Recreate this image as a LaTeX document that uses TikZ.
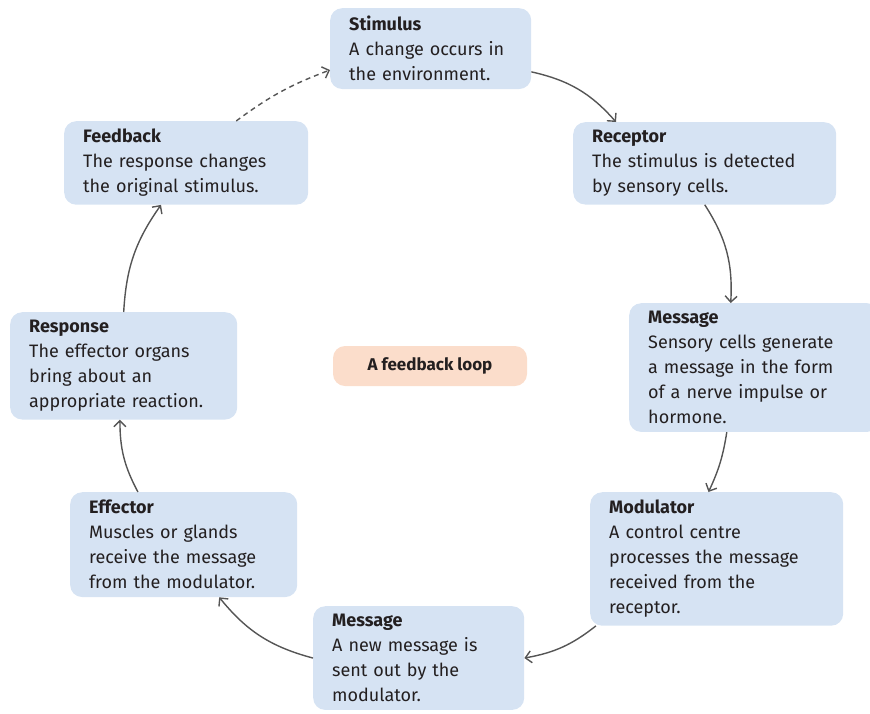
\documentclass[tikz,border=0pt]{standalone}
\usepackage{fontspec}
\setmainfont{Fira Sans}
\usepackage{tikz}
\usetikzlibrary{arrows.meta}
\definecolor{boxfill}{HTML}{D6E3F3}
\definecolor{peach}{HTML}{FBDDCB}
\definecolor{ink}{HTML}{231F20}
\definecolor{wire}{HTML}{555555}
\tikzset{
  box/.style={fill=boxfill, rounded corners=12pt, anchor=north west, align=left, text=ink,
    font=\fontsize{18}{25}\selectfont, inner xsep=19pt, inner ysep=8pt},
  lab/.style={fill=peach, rounded corners=12pt, text=ink, font=\fontsize{17}{20}\selectfont\bfseries,
    minimum width=194pt, minimum height=40pt},
  flow/.style={-{Straight Barb[length=6pt,width=12pt]}, draw=wire, line width=1.4pt},
}
\begin{document}
\begin{tikzpicture}[x=1pt,y=-1pt]
    \useasboundingbox (0,0) rectangle (870,713);
    \clip (0,0) rectangle (870,713);
    \node[box, text width=163pt] (stim) at (330,8) {\textbf{Stimulus}\\A change occurs in\\the environment.};
    \node[box, text width=225pt] (rec) at (573,122) {\textbf{Receptor}\\The stimulus is detected\\by sensory cells.};
    \node[box, text width=212pt] (msga) at (629,303) {\textbf{Message}\\Sensory cells generate\\a message in the form\\of a nerve impulse or\\hormone.};
    \node[box, text width=215pt] (mod) at (590,492) {\textbf{Modulator}\\A control centre\\processes the message\\received from the\\receptor.};
    \node[box, text width=173pt] (msgb) at (313,606) {\textbf{Message}\\A new message is\\sent out by the\\modulator.};
    \node[box, text width=189pt] (eff) at (70,492) {\textbf{Effector}\\Muscles or glands\\receive the message\\from the modulator.};
    \node[box, text width=189pt] (resp) at (10,312) {\textbf{Response}\\The effector organs\\bring about an\\appropriate reaction.};
    \node[box, text width=206pt] (feed) at (64,121) {\textbf{Feedback}\\The response changes\\the original stimulus.};
    \node[lab] (loop) at (430,366) {A feedback loop};
    \draw[flow] (stim.-13) to[bend left=18] (rec.155);
    \draw[flow] (rec.south) to[bend left=18] (msga.110);
    \draw[flow] (msga.-113) to[bend left=8] (mod.97);
    \draw[flow] (mod.209) to[bend left=14] (msgb.east);
    \draw[flow] (msgb.west) to[bend left=18] (eff.-56);
    \draw[flow] (eff.131) to[bend left=14] (resp.-94);
    \draw[flow] (resp.north) to[bend left=16] (feed.-121);
    \draw[flow, dash pattern=on 5pt off 4pt] (feed.40) to[bend left=8] (stim.-168);
\end{tikzpicture}
\end{document}
